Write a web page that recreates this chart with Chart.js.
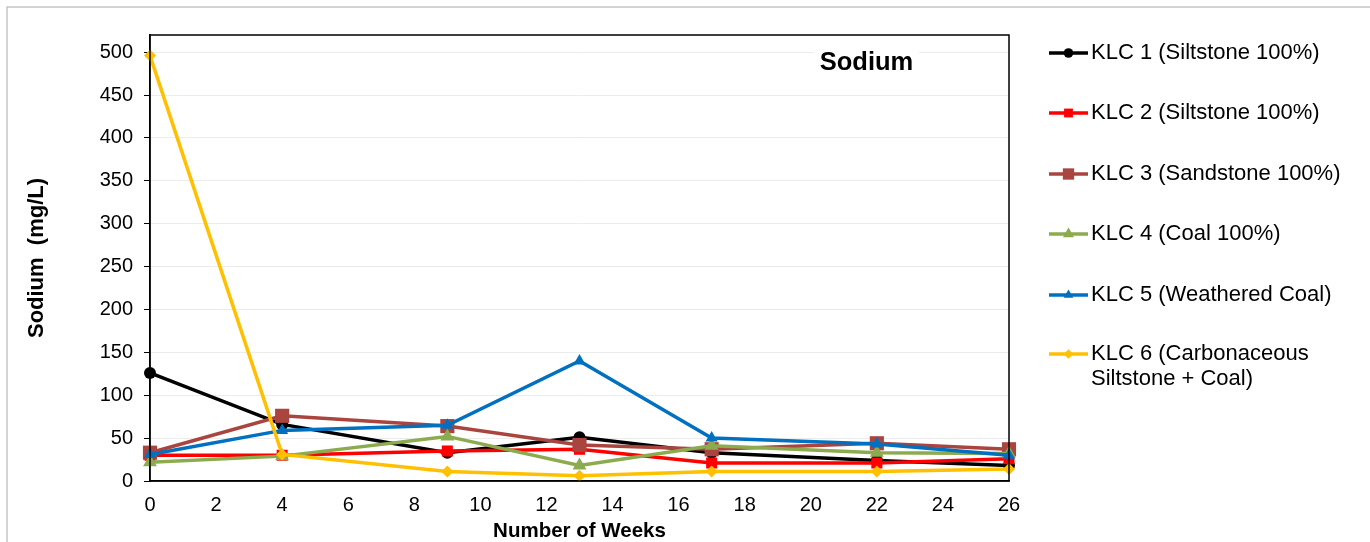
<!DOCTYPE html>
<html>
<head>
<meta charset="utf-8">
<script src="https://cdn.jsdelivr.net/npm/chart.js@4.4.1/dist/chart.umd.min.js"></script>
<style>
  html, body { margin: 0; padding: 0; background: #fff; }
  #wrap { width: 1370px; height: 542px; }
</style>
</head>
<body>
<div id="wrap"><canvas id="myChart" width="1370" height="542"></canvas></div>
<script>
// weeks sampled
const weeks = [0, 4, 9, 13, 17, 22, 26];

// sodium (mg/L) per column
const klc1 = [126, 66, 33, 51, 33, 24, 18];
const klc2 = [30, 30, 35, 37, 21, 21, 26];
const klc3 = [33, 76, 64, 42, 37, 44, 37];
const klc4 = [22, 29, 52, 18, 41, 33, 32];
const klc5 = [31, 59, 65, 140, 50, 43, 30];
const klc6 = [496, 31, 11, 6, 11, 11, 14];

const seriesNames = [
    ['KLC 1 (Siltstone 100%)'],
    ['KLC 2 (Siltstone 100%)'],
    ['KLC 3 (Sandstone 100%)'],
    ['KLC 4 (Coal 100%)'],
    ['KLC 5 (Weathered Coal)'],
    ['KLC 6 (Carbonaceous', 'Siltstone + Coal)'],
];

const yTickValues = [0, 50, 100, 150, 200, 250, 300, 350, 400, 450, 500];
const xTickValues = [0, 2, 4, 6, 8, 10, 12, 14, 16, 18, 20, 22, 24, 26];

const colors = ['#000000', '#ff0000', '#a9443f', '#8caa4e', '#0070c0', '#ffc000'];
const markers = [
    {style: 'circle', r: 6},
    {style: 'rect', r: 7.8},
    {style: 'rect', r: 10},
    {style: 'triangle', r: 8},
    {style: 'triangle', r: 7},
    {style: 'rectRot', r: 6},
];

const allSeries = [klc1, klc2, klc3, klc4, klc5, klc6];

const datasets = allSeries.map((vals, i) => ({
    label: seriesNames[i].join(' '),
    data: weeks.map((w, j) => ({x: w, y: vals[j]})),
    borderColor: colors[i],
    backgroundColor: colors[i],
    borderWidth: 3.5,
    pointStyle: markers[i].style,
    pointRadius: markers[i].r,
    pointBorderWidth: 0,
    tension: 0,
    clip: false,
    order: allSeries.length - i,
}));

const FONT = "'Liberation Sans', Arial, sans-serif";

// frame, plot box, title and legend
const decorations = {
    id: 'decorations',
    beforeDraw(chart) {
        const ctx = chart.ctx;
        ctx.save();
        ctx.strokeStyle = '#c6c6c6';
        ctx.lineWidth = 1.5;
        ctx.beginPath();
        ctx.moveTo(7, 542);
        ctx.lineTo(7, 7);
        ctx.lineTo(1370, 7);
        ctx.stroke();
        ctx.restore();
    },
    afterDraw(chart) {
        const ctx = chart.ctx;
        const a = chart.chartArea;
        ctx.save();
        // plot box
        ctx.strokeStyle = '#000';
        ctx.lineWidth = 1.5;
        ctx.strokeRect(a.left, a.top, a.right - a.left, a.bottom - a.top);

        // title inside the plot
        ctx.font = 'bold 25.5px ' + FONT;
        ctx.textAlign = 'center';
        ctx.textBaseline = 'middle';
        const tw = ctx.measureText('Sodium').width;
        ctx.fillStyle = '#fff';
        ctx.fillRect(866.5 - tw / 2 - 6, 48, tw + 12, 28);
        ctx.fillStyle = '#000';
        ctx.fillText('Sodium', 866.5, 63);

        // legend
        const rowY = [53, 113, 174, 234, 295, 354];
        ctx.font = '22px ' + FONT;
        ctx.textAlign = 'left';
        chart.data.datasets.forEach((ds, i) => {
            const y = rowY[i];
            ctx.strokeStyle = ds.borderColor;
            ctx.lineWidth = 3.5;
            ctx.beginPath();
            ctx.moveTo(1049, y);
            ctx.lineTo(1088, y);
            ctx.stroke();
            ctx.fillStyle = ds.backgroundColor;
            Chart.helpers.drawPoint(ctx, {
                pointStyle: ds.pointStyle,
                radius: ds.pointRadius * 0.8,
                rotation: 0,
                borderWidth: 0,
            }, 1068.5, y);
            ctx.fillStyle = '#000';
            seriesNames[i].forEach((line, k) => {
                ctx.fillText(line, 1091, y + k * 25);
            });
        });
        ctx.restore();
    }
};

const config = {
    type: 'line',
    data: {datasets: datasets},
    options: {
        responsive: false,
        animation: false,
        layout: {padding: {top: 35, right: 361, bottom: 0, left: 0}},
        plugins: {legend: {display: false}, tooltip: {enabled: false}},
        scales: {
            x: {
                type: 'linear',
                min: 0,
                max: 26,
                afterFit(scale) { scale.height = 61; },
                afterBuildTicks(scale) { scale.ticks = xTickValues.map(v => ({value: v})); },
                grid: {display: false, drawTicks: false},
                border: {display: true, color: '#000', width: 1.5},
                ticks: {
                    color: '#000',
                    font: {family: FONT, size: 20},
                    padding: 12,
                    maxRotation: 0,
                    autoSkip: false,
                },
                title: {
                    display: true,
                    text: 'Number of Weeks',
                    color: '#000',
                    font: {family: FONT, size: 20.5, weight: 'bold', lineHeight: 1.0},
                    padding: {top: 0, bottom: 0},
                },
            },
            y: {
                type: 'linear',
                min: 0,
                max: 520,
                afterFit(scale) { scale.width = 150; },
                afterBuildTicks(scale) { scale.ticks = yTickValues.map(v => ({value: v})); },
                grid: {color: '#ececec', lineWidth: 1, tickColor: '#000', tickLength: 6, drawTicks: true},
                border: {display: true, color: '#000', width: 1.5},
                ticks: {
                    color: '#000',
                    font: {family: FONT, size: 20},
                    padding: 11,
                },
                title: {
                    display: true,
                    text: 'Sodium  (mg/L)',
                    color: '#000',
                    font: {family: FONT, size: 22, weight: 'bold'},
                    padding: {top: 24, bottom: 0},
                },
            },
        },
    },
    plugins: [decorations],
};

const myChart = new Chart(document.getElementById('myChart'), config);
</script>
</body>
</html>
